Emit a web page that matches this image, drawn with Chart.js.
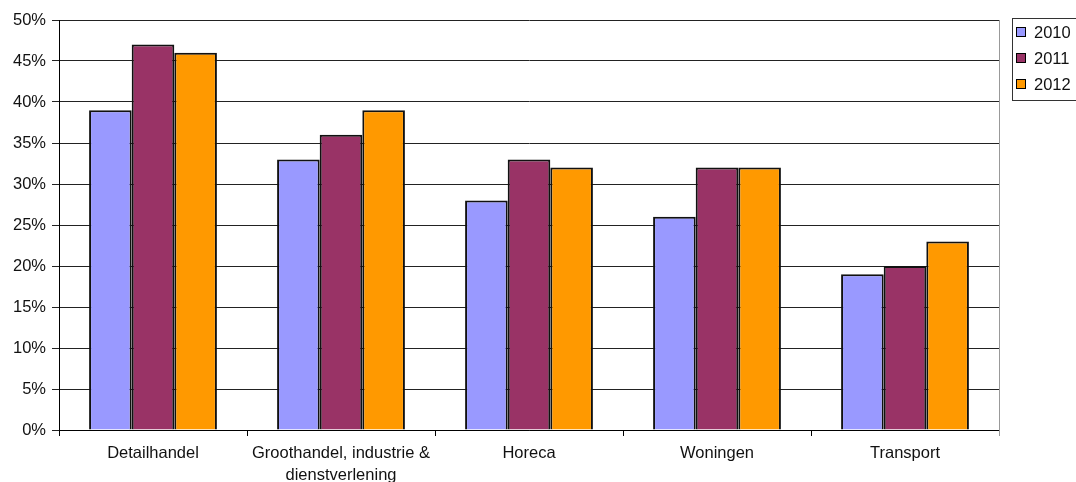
<!DOCTYPE html>
<html>
<head>
<meta charset="utf-8">
<script src="https://cdn.jsdelivr.net/npm/chart.js@4/dist/chart.umd.min.js"></script>
<style>
html,body{margin:0;padding:0;background:#fff;}
#wrap{width:1076px;height:482px;position:relative;}
</style>
</head>
<body>
<div id="wrap"><canvas id="c" width="1076" height="482"></canvas></div>
<script>
const categories = ['Detailhandel', ['Groothandel, industrie &', 'dienstverlening'], 'Horeca', 'Woningen', 'Transport'];
const seriesNames = ['2010', '2011', '2012'];
const values2010 = [39, 33, 28, 26, 19];
const values2011 = [47, 36, 33, 32, 20];
const values2012 = [46, 39, 32, 32, 23];
const colors = ['#9999FF', '#993366', '#FF9900'];
const yTicks = [0, 5, 10, 15, 20, 25, 30, 35, 40, 45, 50];

const FONT = "'Liberation Sans', Arial, sans-serif";
const FSIZE = 16.5;

const legendPlugin = {
  id: 'boxLegend',
  afterDraw(chart) {
    const ctx = chart.ctx;
    ctx.save();
    ctx.strokeStyle = '#333';
    ctx.lineWidth = 1;
    ctx.strokeRect(1012.5, 18.5, 80, 82);
    ctx.font = FSIZE + 'px ' + FONT;
    ctx.textBaseline = 'middle';
    ctx.textAlign = 'left';
    chart.data.datasets.forEach((ds, i) => {
      const cy = 32 + i * 26;
      ctx.fillStyle = ds.backgroundColor;
      ctx.fillRect(1016.5, cy - 4.5, 9, 9);
      ctx.strokeStyle = '#000';
      ctx.strokeRect(1016.5, cy - 4.5, 9, 9);
      ctx.fillStyle = '#111';
      ctx.fillText(ds.label, 1034, cy + 1);
    });
    const a = chart.chartArea;
    ctx.strokeStyle = '#999';
    ctx.beginPath();
    ctx.moveTo(Math.round(a.right) + 0.5, a.top);
    ctx.lineTo(Math.round(a.right) + 0.5, a.bottom + 6);
    ctx.stroke();
    ctx.restore();
  }
};

const datasetValues = [values2010, values2011, values2012];
new Chart(document.getElementById('c'), {
  type: 'bar',
  data: {
    labels: categories,
    datasets: seriesNames.map((n, i) => ({
      label: n,
      data: datasetValues[i],
      backgroundColor: colors[i],
      borderColor: '#111',
      borderWidth: 2,
      barPercentage: 1.0,
      categoryPercentage: 0.68
    }))
  },
  options: {
    responsive: false,
    animation: false,
    devicePixelRatio: 1,
    layout: { padding: { left: 0, right: 77, top: 20, bottom: 0 } },
    plugins: {
      legend: { display: false },
      tooltip: { enabled: false }
    },
    scales: {
      x: {
        offset: true,
        grid: {
          offset: true,
          drawOnChartArea: false,
          drawTicks: true,
          tickLength: 6,
          color: '#000'
        },
        border: { color: '#000', width: 1 },
        ticks: {
          color: '#111',
          font: { family: FONT, size: FSIZE, lineHeight: '22px' },
          padding: 6,
          maxRotation: 0,
          autoSkip: false
        },
        afterFit(scale) { scale.height = 52; }
      },
      y: {
        min: 0,
        max: 50,
        afterBuildTicks(scale) { scale.ticks = yTicks.map(v => ({ value: v })); },
        grid: {
          color: '#222',
          lineWidth: 1,
          tickLength: 7,
          drawTicks: true
        },
        border: { color: '#000', width: 1 },
        ticks: {
          color: '#111',
          font: { family: FONT, size: FSIZE },
          padding: 6,
          callback: v => v + '%'
        },
        afterFit(scale) { scale.width = 59; }
      }
    }
  },
  plugins: [legendPlugin]
});
</script>
</body>
</html>
